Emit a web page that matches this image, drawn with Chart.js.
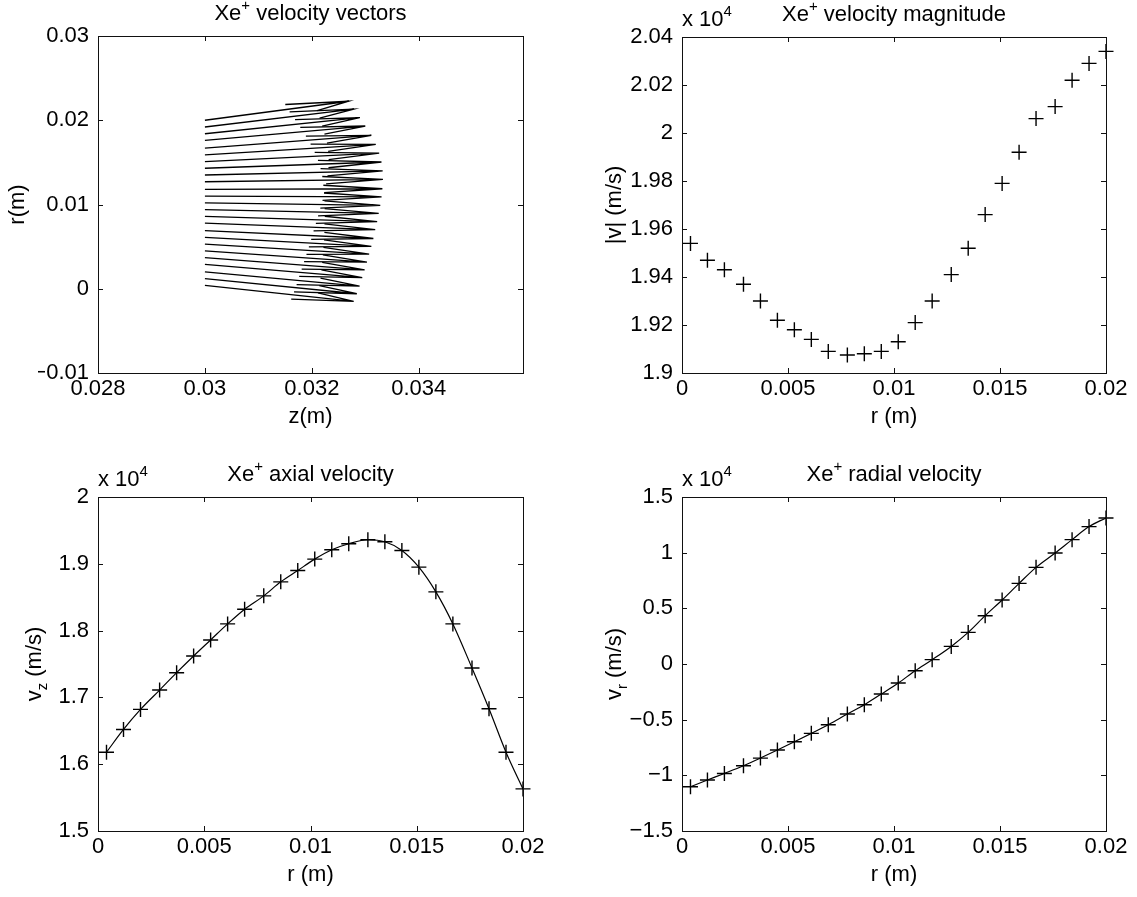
<!DOCTYPE html>
<html lang="en">
<head>
<meta charset="UTF-8" />
<title>Xe+ velocity profiles</title>
<script src="https://cdn.jsdelivr.net/npm/chart.js"></script>
<style>
  body { margin: 0; background: #fff; }
  .fig { position: relative; width: 1137px; height: 897px; background: #fff; }
  .fig canvas { position: absolute; }
</style>
</head>
<body>
<div class="fig">
  <canvas id="cVec" width="560" height="440" style="left:0;top:0"></canvas>
  <canvas id="cMag" width="569" height="440" style="left:568px;top:0"></canvas>
  <canvas id="cAx" width="560" height="457" style="left:0;top:440px"></canvas>
  <canvas id="cRad" width="569" height="457" style="left:568px;top:440px"></canvas>
</div>
<script>
// sample radii (m)
const rPos = [0.0004, 0.0012, 0.0020, 0.0029, 0.0037, 0.0045, 0.0053, 0.0061, 0.0069, 0.0078,
  0.0086, 0.0094, 0.0102, 0.0110, 0.0118, 0.0127, 0.0135, 0.0143, 0.0151, 0.0159,
  0.0167, 0.0176, 0.0184, 0.0192, 0.0200];
// velocities in units of 1e4 m/s
const vMag = [1.954, 1.947, 1.943, 1.937, 1.930, 1.922, 1.918, 1.914, 1.909, 1.9075,
  1.908, 1.909, 1.913, 1.921, 1.930, 1.941, 1.952, 1.966, 1.979, 1.992,
  2.006, 2.011, 2.022, 2.029, 2.034];
const vAxial = [1.618, 1.652, 1.682, 1.711, 1.737, 1.762, 1.786, 1.810, 1.832, 1.852,
  1.873, 1.890, 1.907, 1.921, 1.930, 1.936, 1.933, 1.920, 1.895, 1.858,
  1.810, 1.744, 1.683, 1.618, 1.563];
const vRadial = [-1.102, -1.042, -0.983, -0.914, -0.845, -0.773, -0.698, -0.623, -0.545, -0.449,
  -0.366, -0.270, -0.171, -0.060, 0.039, 0.158, 0.284, 0.434, 0.575, 0.724,
  0.868, 0.997, 1.117, 1.234, 1.312];

// tick labels
const zTicks = [0.028, 0.03, 0.032, 0.034];
const rVecTicks = [-0.01, 0, 0.01, 0.02, 0.03];
const rTicks = [0, 0.005, 0.01, 0.015, 0.02];
const magTicks = [1.9, 1.92, 1.94, 1.96, 1.98, 2, 2.02, 2.04];
const axTicks = [1.5, 1.6, 1.7, 1.8, 1.9, 2];
const radTicks = [-1.5, -1, -0.5, 0, 0.5, 1, 1.5];

const zTail = 0.03;          // quiver tails sit at z = 0.03 m
const ARROW_SCALE = 1.72e-3; // plot metres per 1e4 m/s
const HEAD_LEN = 0.33, HEAD_W = 0.4;

const FONT = '"Liberation Sans", Arial, Helvetica, sans-serif';
const FS = 22;
const YW = 60, XH = 60;

function fmt(v) {
  return String(parseFloat(Number(v).toFixed(6))).replace('-', '\u2212');
}

function drawRich(ctx, segs, x, y, align) {
  const big = FS + 'px ' + FONT, small = '15px ' + FONT;
  let w = 0;
  segs.forEach(s => { ctx.font = (s.sup || s.sub) ? small : big; w += ctx.measureText(s.t).width; });
  let cx = align === 'center' ? x - w / 2 : x;
  ctx.textAlign = 'left';
  ctx.textBaseline = 'alphabetic';
  segs.forEach(s => {
    ctx.font = (s.sup || s.sub) ? small : big;
    ctx.fillText(s.t, cx, y + (s.sup ? -10 : s.sub ? 6 : 0));
    cx += ctx.measureText(s.t).width;
  });
}

const matlabAxes = {
  id: 'matlabAxes',
  afterDraw(chart, args, o) {
    const ctx = chart.ctx, a = chart.chartArea;
    const xs = chart.scales.x, ys = chart.scales.y;
    ctx.save();
    ctx.strokeStyle = '#111';
    ctx.lineWidth = 1;
    ctx.strokeRect(a.left + 0.5, a.top + 0.5, a.right - a.left, a.bottom - a.top);
    ctx.beginPath();
    xs.ticks.forEach(t => {
      const px = Math.round(xs.getPixelForValue(t.value)) + 0.5;
      ctx.moveTo(px, a.bottom); ctx.lineTo(px, a.bottom - 5);
      ctx.moveTo(px, a.top); ctx.lineTo(px, a.top + 5);
    });
    ys.ticks.forEach(t => {
      const py = Math.round(ys.getPixelForValue(t.value)) + 0.5;
      ctx.moveTo(a.left, py); ctx.lineTo(a.left + 5, py);
      ctx.moveTo(a.right, py); ctx.lineTo(a.right - 5, py);
    });
    ctx.stroke();

    ctx.fillStyle = '#000';
    drawRich(ctx, o.title, (a.left + a.right) / 2, a.top - 16, 'center');
    if (o.exp) drawRich(ctx, [{ t: 'x 10' }, { t: '4', sup: true }], a.left, a.top - 11, 'left');
    drawRich(ctx, [{ t: o.xTitle }], (a.left + a.right) / 2, a.bottom + 50, 'center');
    ctx.translate(a.left - o.yOff, (a.top + a.bottom) / 2);
    ctx.rotate(-Math.PI / 2);
    drawRich(ctx, o.yTitle, 0, 0, 'center');
    ctx.restore();
  }
};

function axis(pos, min, max, list) {
  const horiz = pos === 'bottom';
  return {
    type: 'linear', position: pos, min: min, max: max,
    grid: { display: false, drawTicks: false },
    border: { display: false },
    afterBuildTicks: s => { s.ticks = list.map(v => ({ value: v })); },
    afterFit: s => { if (horiz) s.height = XH; else s.width = YW; },
    ticks: {
      autoSkip: false, maxRotation: 0, padding: horiz ? 3 : 9, color: '#000',
      font: { family: FONT, size: FS }, callback: v => fmt(v)
    }
  };
}

function makeChart(id, canvasPos, box, datasets, xAx, yAx, labels) {
  new Chart(document.getElementById(id), {
    type: 'scatter',
    data: { datasets: datasets },
    plugins: [matlabAxes],
    options: {
      responsive: false, animation: false, events: [],
      layout: { padding: {
        left: box.l - canvasPos.x - YW, top: box.t - canvasPos.y,
        right: canvasPos.x + canvasPos.w - box.r, bottom: canvasPos.y + canvasPos.h - box.b - XH
      } },
      scales: { x: xAx, y: yAx },
      plugins: { legend: { display: false }, tooltip: { enabled: false }, matlabAxes: labels }
    }
  });
}

const xe = s => [{ t: 'Xe' }, { t: '+', sup: true }, { t: s }];

// velocity vectors (quiver style)
const arrows = rPos.map((r, i) => {
  const u = vAxial[i] * ARROW_SCALE, v = vRadial[i] * ARROW_SCALE;
  const tip = { x: zTail + u, y: r + v };
  return {
    data: [
      { x: zTail, y: r }, tip,
      { x: tip.x - HEAD_LEN * (u + HEAD_W * v), y: tip.y - HEAD_LEN * (v - HEAD_W * u) },
      tip,
      { x: tip.x - HEAD_LEN * (u - HEAD_W * v), y: tip.y - HEAD_LEN * (v + HEAD_W * u) }
    ],
    showLine: true, borderColor: '#000', borderWidth: 1.3, pointRadius: 0, tension: 0
  };
});
makeChart('cVec', { x: 0, y: 0, w: 560, h: 440 }, { l: 98, t: 36, r: 523, b: 373 }, arrows,
  axis('bottom', 0.028, 0.03595, zTicks), axis('left', -0.01, 0.03, rVecTicks),
  { title: xe(' velocity vectors'), exp: false, xTitle: 'z(m)', yTitle: [{ t: 'r(m)' }], yOff: 74 });

const plusPts = (ys, line) => [{
  data: rPos.map((r, i) => ({ x: r, y: ys[i] })),
  showLine: line, borderColor: '#000', borderWidth: 1.2, cubicInterpolationMode: 'monotone',
  pointStyle: 'cross', pointRadius: 7.5, pointBorderWidth: 1.4, pointBorderColor: '#000',
  clip: false
}];

makeChart('cMag', { x: 568, y: 0, w: 569, h: 440 }, { l: 682, t: 37, r: 1106, b: 373 }, plusPts(vMag, false),
  axis('bottom', 0, 0.02, rTicks), axis('left', 1.9, 2.04, magTicks),
  { title: xe(' velocity magnitude'), exp: true, xTitle: 'r (m)', yTitle: [{ t: '|v| (m/s)' }], yOff: 61 });

makeChart('cAx', { x: 0, y: 440, w: 560, h: 457 }, { l: 98, t: 497, r: 523, b: 831 }, plusPts(vAxial, true),
  axis('bottom', 0, 0.02, rTicks), axis('left', 1.5, 2, axTicks),
  { title: xe(' axial velocity'), exp: true, xTitle: 'r (m)', yTitle: [{ t: 'v' }, { t: 'z', sub: true }, { t: ' (m/s)' }], yOff: 57 });

makeChart('cRad', { x: 568, y: 440, w: 569, h: 457 }, { l: 682, t: 497, r: 1106, b: 831 }, plusPts(vRadial, true),
  axis('bottom', 0, 0.02, rTicks), axis('left', -1.5, 1.5, radTicks),
  { title: xe(' radial velocity'), exp: true, xTitle: 'r (m)', yTitle: [{ t: 'v' }, { t: 'r', sub: true }, { t: ' (m/s)' }], yOff: 61 });
</script>
</body>
</html>
